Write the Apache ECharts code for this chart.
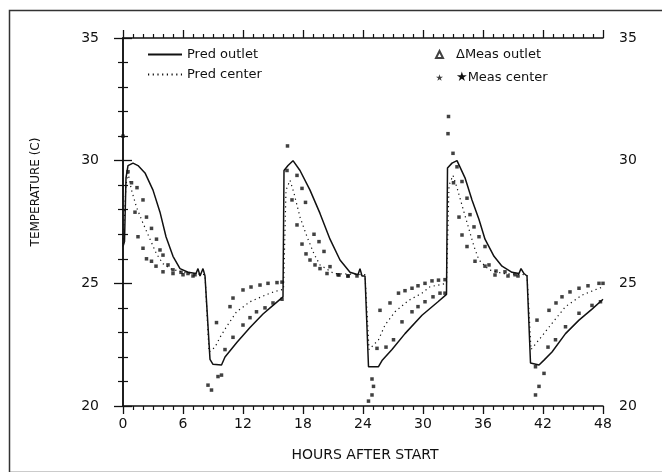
<!DOCTYPE html>
<html>
<head>
<meta charset="utf-8">
<script src="https://cdn.jsdelivr.net/npm/echarts@6/dist/echarts.min.js"></script>
<style>
  html, body { margin: 0; padding: 0; background: #fff; }
  #chart { width: 662px; height: 472px; }
</style>
</head>
<body>
<div id="chart"></div>
<script>
// hours after start, temperature (C)
var predOutlet = [
  [0, 26.5], [0.15, 26.7], [0.3, 29.3], [0.5, 29.8], [1.0, 29.9], [1.5, 29.8], [2.2, 29.5],
  [3.0, 28.8], [3.7, 27.9], [4.3, 26.9], [5.0, 26.1], [5.7, 25.6], [6.5, 25.45], [7.3, 25.4],
  [7.5, 25.6], [7.7, 25.3], [8.0, 25.6], [8.2, 25.3], [8.7, 21.9], [9.0, 21.7], [9.85, 21.67],
  [10.2, 22.0], [11.4, 22.6], [12.7, 23.2], [14.0, 23.75], [15.0, 24.1], [16.0, 24.45],
  [16.1, 29.6], [16.5, 29.8], [17.0, 30.0], [17.7, 29.6], [18.7, 28.8], [19.7, 27.85],
  [20.7, 26.8], [21.7, 25.95], [22.7, 25.45], [23.5, 25.35], [23.7, 25.6], [23.9, 25.3],
  [24.2, 25.3], [24.55, 21.6], [25.55, 21.6], [25.9, 21.85], [26.9, 22.3], [28.2, 22.95],
  [29.9, 23.7], [31.5, 24.25], [32.35, 24.55],
  [32.45, 29.7], [32.9, 29.9], [33.4, 30.0], [34.2, 29.3], [34.9, 28.4], [35.6, 27.6],
  [36.2, 26.8], [37.1, 26.1], [37.9, 25.7], [38.9, 25.45], [39.6, 25.4], [39.8, 25.6],
  [40.1, 25.4], [40.4, 25.3], [40.75, 21.75], [41.6, 21.67], [42.1, 21.87], [42.9, 22.2],
  [44.25, 22.95], [45.6, 23.5], [46.9, 23.95], [48, 24.35]
];
var predCenter = [
  [0, 26.6], [0.3, 29.0], [0.5, 29.5], [0.85, 28.8], [1.35, 28.1], [2.0, 27.45], [2.7, 26.8],
  [3.35, 26.2], [4.0, 25.8], [4.7, 25.6], [6.0, 25.45], [8.2, 25.35], [8.6, 22.2], [9.2, 22.4],
  [9.7, 22.8], [10.35, 23.23], [11.35, 23.84], [12.7, 24.25], [14.7, 24.6], [15.7, 24.73],
  [16.05, 24.75], [16.3, 28.8], [16.7, 29.2], [17.1, 28.67], [17.7, 27.7], [18.4, 26.9],
  [19.1, 26.2], [19.7, 25.75], [21.1, 25.4], [24.2, 25.35], [24.6, 22.3], [25.55, 22.7],
  [26.2, 23.3], [27.2, 23.84], [28.55, 24.3], [29.9, 24.6], [30.7, 24.86], [32.35, 25.0],
  [32.6, 29.0], [33.0, 29.4], [33.4, 28.9], [34.1, 27.9], [34.6, 27.2], [35.1, 26.5],
  [35.6, 25.95], [36.6, 25.55], [38.0, 25.4], [40.4, 25.35], [40.8, 22.3], [41.6, 22.7],
  [42.9, 23.37], [44.25, 24.05], [45.9, 24.52], [47.6, 24.8], [48, 24.85]
];
var measOutlet = [
  [0.85, 29.1], [1.4, 28.9], [2.0, 28.4], [2.35, 27.7], [2.85, 27.24], [3.35, 26.8], [3.7, 26.36],
  [4.0, 26.15], [4.5, 25.75], [5.0, 25.55], [5.8, 25.45], [6.5, 25.4], [7.2, 25.35],
  [10.2, 22.3], [11.0, 22.8], [12.0, 23.3], [12.7, 23.6], [13.35, 23.84], [14.2, 24.0],
  [15.0, 24.2], [15.9, 24.35],
  [17.4, 29.4], [17.9, 28.87], [18.25, 28.3], [19.1, 27.0], [19.6, 26.7], [20.1, 26.3],
  [20.7, 25.68], [21.6, 25.34], [22.5, 25.3], [23.4, 25.3],
  [26.3, 22.4], [27.05, 22.7], [27.9, 23.43], [28.9, 23.84], [29.5, 24.05], [30.2, 24.25],
  [31.0, 24.45], [31.7, 24.6], [32.2, 24.6],
  [33.4, 29.75], [33.9, 29.15], [34.4, 28.47], [34.7, 27.8], [35.1, 27.3], [35.6, 26.9],
  [36.2, 26.5], [36.6, 25.75], [37.3, 25.5], [38.2, 25.47], [39.2, 25.35],
  [42.5, 22.4], [43.25, 22.7], [44.25, 23.23], [45.6, 23.78], [46.9, 24.1], [47.75, 24.25]
];
var measCenter = [
  [0.0, 31.0], [0.5, 29.55], [1.2, 27.9], [1.5, 26.9], [2.0, 26.43], [2.35, 26.0], [2.85, 25.9],
  [3.3, 25.7], [4.0, 25.47], [5.0, 25.4], [6.0, 25.35], [7.0, 25.3],
  [8.5, 20.85], [8.85, 20.65], [9.5, 21.2], [9.85, 21.26], [9.35, 23.4], [10.7, 24.05],
  [11.0, 24.4], [12.0, 24.73], [12.8, 24.85], [13.7, 24.93], [14.5, 25.0], [15.4, 25.03], [15.9, 25.05],
  [16.45, 30.6], [16.4, 29.6], [16.9, 28.4], [17.4, 27.38], [17.9, 26.6], [18.3, 26.2],
  [18.7, 25.95], [19.2, 25.75], [19.7, 25.6], [20.4, 25.4], [21.5, 25.35], [22.5, 25.3],
  [24.55, 20.2], [24.9, 20.45], [25.05, 20.8], [24.9, 21.1], [25.4, 22.35], [25.7, 23.9],
  [26.7, 24.2], [27.55, 24.6], [28.2, 24.7], [28.9, 24.8], [29.5, 24.9], [30.2, 25.0],
  [30.9, 25.1], [31.55, 25.13], [32.2, 25.15],
  [32.55, 31.8], [32.5, 31.1], [33.0, 30.3], [33.05, 29.1], [33.6, 27.7], [33.9, 26.97],
  [34.4, 26.5], [35.2, 25.9], [36.2, 25.7], [37.2, 25.34], [38.5, 25.3], [39.5, 25.3],
  [41.25, 20.45], [41.6, 20.8], [41.25, 21.6], [42.1, 21.33], [41.4, 23.5], [42.6, 23.9],
  [43.3, 24.2], [43.9, 24.45], [44.7, 24.65], [45.6, 24.8], [46.5, 24.9], [47.6, 25.0], [48, 25.0]
];

var ink = "#111";
var font = "DejaVu Sans";
var starPath = "path://M50,0 L61,35 L98,35 L68,57 L79,91 L50,70 L21,91 L32,57 L2,35 L39,35 Z";

var myChart = echarts.init(document.getElementById("chart"));

function xAx(pos, showLabel) {
  return {
    type: "value", position: pos, min: 0, max: 48, interval: 6,
    axisLine: { show: true, lineStyle: { color: ink, width: 1.5 } },
    axisTick: { show: true, length: 8, lineStyle: { color: ink, width: 1.3 } },
    minorTick: { show: true, splitNumber: 6, length: 4, lineStyle: { color: ink, width: 1.2 } },
    axisLabel: { show: showLabel, margin: 11, color: ink, fontFamily: font, fontSize: 14 },
    splitLine: { show: false }, minorSplitLine: { show: false }
  };
}
function yAx(pos) {
  return {
    type: "value", position: pos, min: 20, max: 35, interval: 5,
    axisLine: { show: true, lineStyle: { color: ink, width: 1.5 } },
    axisTick: { show: true, length: 9, lineStyle: { color: ink, width: 1.3 } },
    minorTick: { show: true, splitNumber: 5, length: 5, lineStyle: { color: ink, width: 1.2 } },
    axisLabel: { show: true, margin: pos === "left" ? 24 : 16, color: ink, fontFamily: font, fontSize: 14 },
    splitLine: { show: false }, minorSplitLine: { show: false }
  };
}

myChart.setOption({
  backgroundColor: "#fff",
  animation: false,
  grid: { left: 123, right: 59, top: 38, bottom: 66 },
  xAxis: [xAx("bottom", true), xAx("top", false)],
  yAxis: [yAx("left"), yAx("right")],
  legend: [
    {
      left: 142, top: 43, orient: "vertical", itemWidth: 34, itemHeight: 10, itemGap: 7,
      itemStyle: { opacity: 0 },
      textStyle: { color: ink, fontFamily: font, fontSize: 13, padding: [0, 0, 0, 0] },
      data: ["Pred outlet", "Pred center"]
    },
    {
      left: 430, top: 43, orient: "vertical", itemWidth: 7, itemHeight: 7, itemGap: 10,
      textStyle: { color: ink, fontFamily: font, fontSize: 13, padding: [0, 0, 0, 8] },
      data: [
        { name: "ΔMeas outlet", icon: "emptyTriangle" },
        { name: "★Meas center", icon: starPath }
      ]
    }
  ],
  graphic: [
    { type: "rect", left: 7, top: 8, shape: { width: 700, height: 462 },
      style: { fill: "none", stroke: "#333", lineWidth: 1.5 }, silent: true },
    { type: "text", x: 36, y: 192, rotation: Math.PI / 2,
      style: { text: "TEMPERATURE (C)", fill: ink, font: "12px DejaVu Sans", align: "center", verticalAlign: "middle" } },
    { type: "text", x: 365, y: 455,
      style: { text: "HOURS AFTER START", fill: ink, font: "14px DejaVu Sans", align: "center", verticalAlign: "middle" } }
  ],
  series: [
    {
      name: "Pred outlet", type: "line", data: predOutlet, symbol: "none",
      lineStyle: { color: ink, width: 1.5 }, itemStyle: { color: ink }, z: 3
    },
    {
      name: "Pred center", type: "line", data: predCenter, symbol: "none",
      lineStyle: { color: ink, width: 1.2, type: [1.2, 3.5] }, itemStyle: { color: ink }, z: 2
    },
    {
      name: "ΔMeas outlet", type: "scatter", data: measOutlet, symbol: "rect", symbolSize: 3.5,
      itemStyle: { color: ink }, z: 4
    },
    {
      name: "★Meas center", type: "scatter", data: measCenter, symbol: "rect", symbolSize: 3.5,
      itemStyle: { color: ink }, z: 4
    }
  ]
});
</script>
</body>
</html>
